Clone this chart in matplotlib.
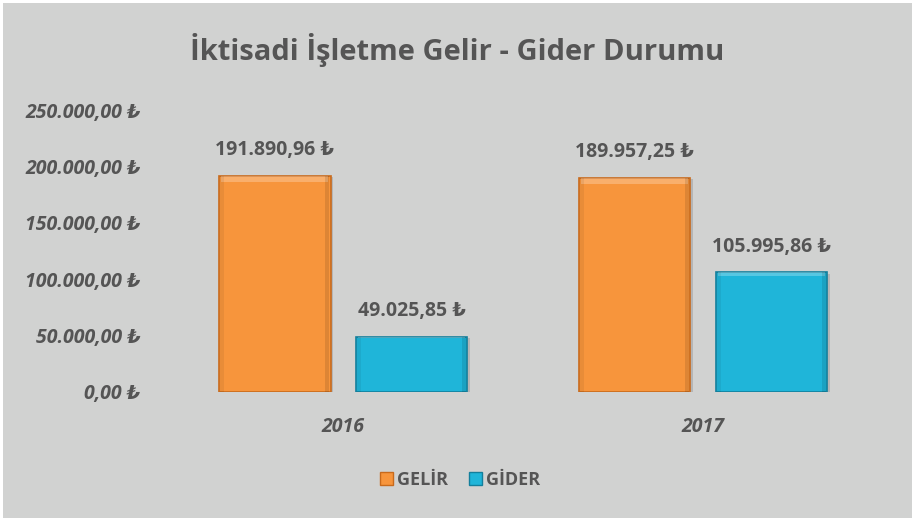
import matplotlib
matplotlib.use("Agg")
import matplotlib.pyplot as plt
from matplotlib.patches import Rectangle

plt.rcParams['font.family'] = ['Open Sans', 'DejaVu Sans']

years = ["2016", "2017"]
gelir = [191890.96, 189957.25]
gider = [49025.85, 105995.86]
yticks = [0, 50000, 100000, 150000, 200000, 250000]

txt = "#555555"
bg = "#d1d2d1"
orange = "#f7953c"
blue = "#1fb5d9"


def tl(v):
    s = "{:,.2f}".format(v).replace(",", "X").replace(".", ",").replace("X", ".")
    return s + " ₺"


fig = plt.figure(figsize=(9.15, 5.21), dpi=100)
fig.patch.set_facecolor("white")
fig.patches.append(Rectangle((3 / 915, 3 / 521), 909 / 915, 515 / 521,
                             transform=fig.transFigure, facecolor=bg,
                             edgecolor="none", zorder=-10))

ax = fig.add_axes([163 / 915, 1 - 392 / 521, 720 / 915, 282 / 521])
ax.set_facecolor("none")

w = 0.311
off = (w + 25 / 360) / 2
x = [0, 1]
for xi, v1, v2 in zip(x, gelir, gider):
    for xc, v, c, ec in [(xi - off, v1, orange, "#c86a1c"), (xi + off, v2, blue, "#137f9c")]:
        # shadow
        ax.bar(xc + 0.006, v, w, bottom=-1500, color="#9a9a9a", alpha=0.5, zorder=1)
        ax.bar(xc, v, w, color=c, edgecolor=ec, linewidth=1.2, zorder=2)
        # bevel look: light top band, darker side strips
        ax.bar(xc, v * 0.03, w * 0.96, bottom=v * 0.97, color="white", alpha=0.25,
               linewidth=0, zorder=3)
        ax.bar(xc - w * 0.47, v, w * 0.04, color="black", alpha=0.06, linewidth=0, zorder=3)
        ax.bar(xc + w * 0.47, v, w * 0.04, color="black", alpha=0.1, linewidth=0, zorder=3)
        ax.text(xc, v + 14000, tl(v), ha="center", va="bottom", fontsize=14,
                fontweight="bold", color=txt)

ax.set_xlim(-0.5, 1.5)
ax.set_ylim(0, 250000)
ax.set_yticks(yticks)
ax.set_yticklabels([tl(t) for t in yticks], fontsize=14, fontweight="bold",
                   style="italic", color=txt)
ax.set_xticks(x)
ax.set_xticklabels(years, fontsize=14, fontweight="bold", style="italic", color=txt)
ax.tick_params(length=0)
ax.tick_params(axis="y", pad=16)
ax.tick_params(axis="x", pad=18)
for s in ax.spines.values():
    s.set_visible(False)

fig.text(0.5, 1 - 50 / 521, "İktisadi İşletme Gelir - Gider Durumu", ha="center",
         va="center", fontsize=21, fontweight="bold", color=txt)

h1 = Rectangle((0, 0), 1, 1, facecolor=orange, edgecolor="#c86a1c")
h2 = Rectangle((0, 0), 1, 1, facecolor=blue, edgecolor="#137f9c")
leg = fig.legend([h1, h2], ["GELİR", "GİDER"], loc="center", ncol=2,
                 bbox_to_anchor=(460 / 915, 1 - 480 / 521), frameon=False,
                 handlelength=0.7, handleheight=0.7, handletextpad=0.2,
                 columnspacing=1.2, prop={"size": 13, "weight": "bold"})
for t in leg.get_texts():
    t.set_color(txt)

fig.savefig("out.png", dpi=100)
